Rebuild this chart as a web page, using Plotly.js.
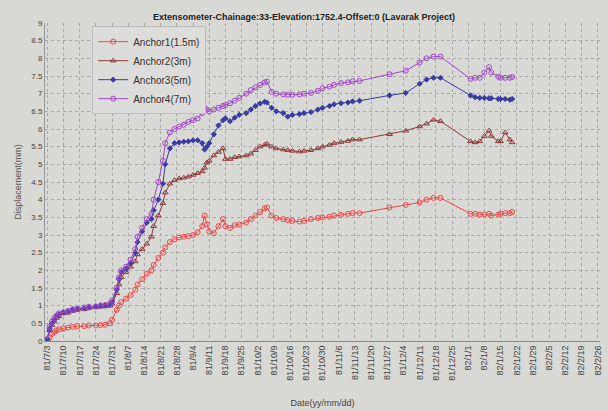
<!DOCTYPE html>
<html>
<head>
<meta charset="utf-8">
<script src="https://cdn.plot.ly/plotly-3.0.1.min.js"></script>
<style>
html,body{margin:0;padding:0;background:#d8d8d5;}
#chart{width:608px;height:411px;}
</style>
</head>
<body>
<div id="chart"></div>
<script>
var dates = [
"1981-07-03","1981-07-04","1981-07-05","1981-07-06","1981-07-07","1981-07-08","1981-07-10","1981-07-12","1981-07-14","1981-07-16",
"1981-07-19","1981-07-21","1981-07-24","1981-07-26","1981-07-28","1981-07-30","1981-07-31","1981-08-02","1981-08-03","1981-08-04",
"1981-08-06","1981-08-08","1981-08-10","1981-08-11","1981-08-13","1981-08-15","1981-08-17","1981-08-18","1981-08-20","1981-08-22",
"1981-08-23","1981-08-25","1981-08-27","1981-08-29","1981-08-31","1981-09-02","1981-09-04","1981-09-06","1981-09-08","1981-09-09",
"1981-09-10","1981-09-11","1981-09-13","1981-09-15","1981-09-17","1981-09-18","1981-09-20","1981-09-22","1981-09-24","1981-09-27",
"1981-09-29","1981-10-01","1981-10-03","1981-10-05","1981-10-06","1981-10-08","1981-10-10","1981-10-13","1981-10-15","1981-10-17",
"1981-10-20","1981-10-22","1981-10-25","1981-10-28","1981-10-30","1981-11-02","1981-11-04","1981-11-07","1981-11-10","1981-11-12",
"1981-11-15","1981-11-28","1981-12-05","1981-12-11","1981-12-14","1981-12-17","1981-12-20","1982-01-02","1982-01-04","1982-01-06",
"1982-01-08","1982-01-10","1982-01-11","1982-01-14","1982-01-15","1982-01-17","1982-01-19","1982-01-20"
];

var anchor1 = [
0.02,0.1,0.2,0.25,0.3,0.33,0.36,0.38,0.4,0.42,
0.42,0.44,0.44,0.45,0.46,0.5,0.6,0.88,1.0,1.1,
1.2,1.3,1.45,1.6,1.75,1.9,2.0,2.15,2.35,2.5,
2.65,2.8,2.88,2.93,2.95,2.97,3.0,3.08,3.25,3.55,
3.3,3.1,3.05,3.25,3.45,3.25,3.2,3.28,3.3,3.35,
3.45,3.55,3.65,3.75,3.78,3.55,3.48,3.45,3.42,3.4,
3.38,3.4,3.45,3.48,3.5,3.52,3.55,3.57,3.6,3.62,
3.62,3.78,3.85,3.92,4.0,4.05,4.05,3.6,3.6,3.58,
3.58,3.6,3.55,3.58,3.6,3.62,3.62,3.65
];

var anchor2 = [
0.05,0.3,0.45,0.55,0.65,0.7,0.78,0.8,0.85,0.88,
0.9,0.93,0.95,0.97,0.98,1.0,1.05,1.35,1.6,1.8,
1.95,2.1,2.25,2.45,2.6,2.75,2.95,3.25,3.55,3.9,
4.2,4.45,4.55,4.6,4.62,4.65,4.7,4.75,4.8,4.9,
5.05,5.1,5.25,5.35,5.45,5.15,5.15,5.2,5.22,5.25,
5.3,5.4,5.5,5.55,5.58,5.5,5.45,5.42,5.4,5.38,
5.36,5.38,5.4,5.45,5.5,5.55,5.6,5.63,5.66,5.7,
5.7,5.85,5.95,6.07,6.15,6.26,6.22,5.65,5.62,5.65,
5.8,5.95,5.8,5.65,5.65,5.9,5.7,5.62
];

var anchor3 = [
0.05,0.35,0.5,0.6,0.7,0.75,0.8,0.83,0.88,0.9,
0.92,0.95,0.98,1.0,1.0,1.02,1.1,1.45,1.75,1.95,
2.05,2.2,2.5,2.8,3.1,3.35,3.45,3.7,4.0,4.45,
5.0,5.45,5.6,5.62,5.64,5.65,5.68,5.68,5.6,5.42,
5.5,5.6,5.85,6.1,6.25,6.3,6.22,6.32,6.4,6.45,
6.55,6.65,6.72,6.77,6.75,6.6,6.5,6.45,6.35,6.4,
6.42,6.45,6.48,6.55,6.6,6.65,6.7,6.73,6.75,6.78,
6.8,6.95,7.02,7.28,7.4,7.45,7.45,6.95,6.9,6.88,
6.88,6.87,6.87,6.85,6.85,6.85,6.83,6.85
];

var anchor4 = [
0.05,0.4,0.55,0.65,0.72,0.78,0.82,0.85,0.9,0.92,
0.95,0.97,0.98,1.0,1.02,1.05,1.15,1.5,1.8,2.0,
2.1,2.3,2.6,2.95,3.2,3.45,3.6,4.0,4.5,5.1,
5.6,5.9,6.0,6.07,6.12,6.2,6.25,6.3,6.45,6.6,
6.55,6.5,6.55,6.6,6.65,6.68,6.73,6.8,6.88,7.0,
7.1,7.18,7.25,7.32,7.34,7.05,7.0,6.98,6.97,6.97,
6.98,7.0,7.02,7.08,7.15,7.2,7.25,7.3,7.32,7.35,
7.36,7.55,7.65,7.88,8.0,8.05,8.05,7.42,7.45,7.45,
7.6,7.75,7.6,7.48,7.45,7.45,7.45,7.47
];

var seriesNames = ["Anchor1(1.5m)", "Anchor2(3m)", "Anchor3(5m)", "Anchor4(7m)"];
var seriesValues = [anchor1, anchor2, anchor3, anchor4];
var colors = ["#f04848", "#8e3a3a", "#3c3ca0", "#a048c8"];
var symbols = ["circle-open", "triangle-up-open", "diamond", "circle-open"];
var sizes = [5, 5, 4, 5];

var traces = seriesValues.map(function(v, i){
  return {
    x: dates, y: v, name: seriesNames[i], type: "scatter", mode: "lines+markers",
    line: {color: colors[i], width: 1},
    marker: {symbol: symbols[i], size: sizes[i], color: colors[i], line: {color: colors[i], width: 1}}
  };
});

var fontFam = "Liberation Sans, Arial, sans-serif";
var layout = {
  width: 608, height: 411,
  paper_bgcolor: "#d8d8d5",
  plot_bgcolor: "#d8d8d5",
  margin: {l: 45, r: 8, t: 23, b: 70},
  title: {text: "<b>Extensometer-Chainage:33-Elevation:1752.4-Offset:0 (Lavarak Project)</b>",
          font: {family: fontFam, size: 9, color: "#222"}, x: 0.5, xanchor: "center", y: 0.958, yanchor: "middle"},
  xaxis: {
    type: "date",
    range: ["1981-07-02", "1982-02-27"],
    tick0: "1981-07-03", dtick: 7 * 86400000,
    tickformat: "%y/%-m/%-d",
    tickangle: -90,
    tickfont: {family: fontFam, size: 9, color: "#444"},
    showgrid: true, gridcolor: "#a9a9a9", griddash: "dot", gridwidth: 1,
    showline: true, linecolor: "#7f8a9a", linewidth: 1,
    ticks: "", zeroline: false,
    title: {text: "Date(yy/mm/dd)", font: {family: fontFam, size: 9, color: "#444"}, standoff: 20}
  },
  yaxis: {
    range: [0, 9], dtick: 0.5,
    tickfont: {family: fontFam, size: 8, color: "#444"},
    showgrid: true, gridcolor: "#a9a9a9", griddash: "dot", gridwidth: 1,
    showline: true, linecolor: "#9a9a9a", linewidth: 1,
    ticks: "", zeroline: false,
    title: {text: "Displacement(mm)", font: {family: fontFam, size: 9, color: "#555"}, standoff: 8}
  },
  showlegend: true,
  legend: {
    x: 0.085, y: 0.99, xanchor: "left", yanchor: "top",
    bgcolor: "#dcdcda", bordercolor: "#bdbdbd", borderwidth: 1,
    font: {family: fontFam, size: 10, color: "#333"},
    itemwidth: 30, tracegroupgap: 0
  }
};

Plotly.newPlot("chart", traces, layout, {displayModeBar: false, staticPlot: true});
</script>
</body>
</html>
